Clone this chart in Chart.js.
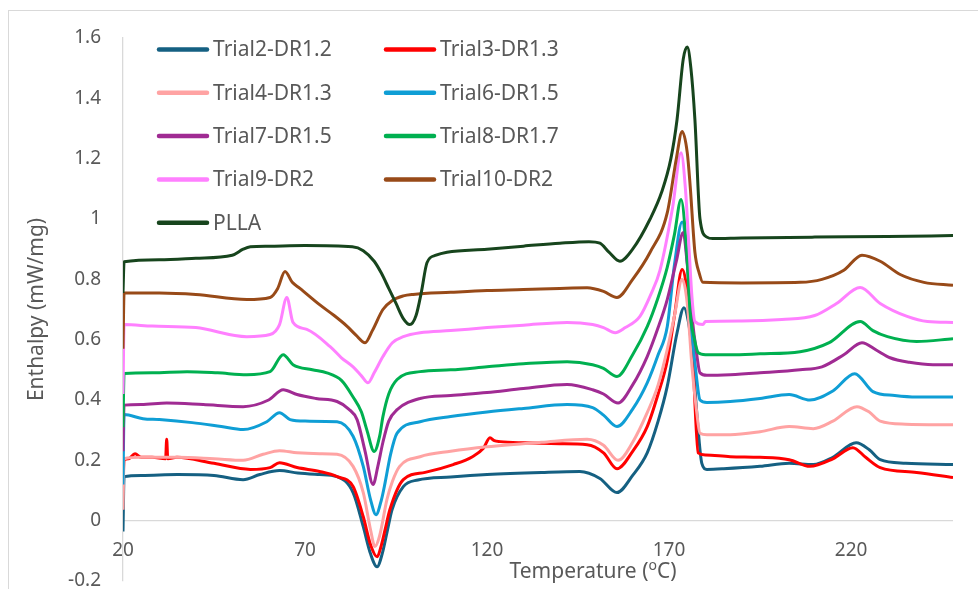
<!DOCTYPE html>
<html>
<head>
<meta charset="utf-8">
<script src="https://cdn.jsdelivr.net/npm/chart.js@4.4.1/dist/chart.umd.min.js"></script>
<style>
  html, body { margin: 0; padding: 0; background: #fff; overflow: hidden; }
  #wrap { width: 978px; height: 589px; position: relative; }
</style>
</head>
<body>
<div id="wrap"><canvas id="dsc"></canvas></div>
<script>
/* ===================================================
   DSC CURVES – enthalpy vs temperature
   =================================================== */

// ── DATA ──────────────────────────────────────────
const SERIES_NAMES = ['Trial2-DR1.2', 'Trial3-DR1.3', 'Trial4-DR1.3', 'Trial6-DR1.5',
  'Trial7-DR1.5', 'Trial8-DR1.7', 'Trial9-DR2', 'Trial10-DR2', 'PLLA'];

const X_TICKS = [20, 70, 120, 170, 220];
const Y_TICKS = [-0.2, 0, 0.2, 0.4, 0.6, 0.8, 1, 1.2, 1.4, 1.6];

const TEMP_T2 = [20, 20.3, 25, 35, 45, 53, 57.6, 63, 68, 74, 78.8, 83.2, 86, 88, 89.8, 91.2, 92.5, 93.9, 97, 101, 110, 120, 135, 145.5, 151, 155.7, 160, 164, 167, 169.5, 172.2, 174.1, 175.3, 176.3, 177.7, 179, 180.4, 185, 195, 203, 209.6, 215, 221.4, 225, 228, 235, 248];
const DH_T2   = [-0.036, 0.146, 0.15, 0.153, 0.15, 0.136, 0.153, 0.166, 0.158, 0.153, 0.146, 0.093, -0.02, -0.11, -0.153, -0.11, -0.04, 0.036, 0.113, 0.135, 0.145, 0.153, 0.16, 0.163, 0.14, 0.093, 0.15, 0.225, 0.33, 0.445, 0.623, 0.706, 0.66, 0.567, 0.345, 0.19, 0.17, 0.172, 0.18, 0.19, 0.186, 0.21, 0.258, 0.235, 0.202, 0.19, 0.186];

const TEMP_T3 = [20, 20.3, 21.5, 23.3, 25, 28, 31.7, 32, 32.3, 34.8, 45, 55, 60.4, 63, 67.8, 74, 78.8, 83.2, 86, 88, 89.8, 91, 92, 93.3, 97, 103, 110.7, 116, 119, 120.8, 122, 123.6, 130, 140, 147.5, 152, 155.7, 160, 164, 167, 169.5, 171.5, 173.6, 175, 176.3, 178, 180, 186.8, 195, 203, 208.7, 215, 220.5, 224, 228, 238, 248];
const DH_T3   = [0.12, 0.2, 0.205, 0.222, 0.21, 0.21, 0.205, 0.27, 0.205, 0.21, 0.19, 0.17, 0.176, 0.192, 0.176, 0.163, 0.146, 0.113, 0.013, -0.08, -0.12, -0.08, -0.03, 0.036, 0.136, 0.16, 0.186, 0.212, 0.24, 0.275, 0.265, 0.262, 0.258, 0.255, 0.252, 0.225, 0.172, 0.23, 0.312, 0.42, 0.53, 0.68, 0.833, 0.76, 0.6, 0.225, 0.218, 0.212, 0.21, 0.202, 0.18, 0.205, 0.242, 0.21, 0.176, 0.16, 0.143];

const TEMP_T4 = [20, 20.3, 25, 35, 45, 53, 58.5, 63, 67.8, 74, 78.8, 83.2, 86, 88, 89.2, 90.5, 92.5, 94, 96, 101.6, 110, 120, 135, 147.5, 152, 156, 160, 164, 167, 169.5, 171.5, 173.6, 175, 176.3, 177.5, 178.5, 180.4, 186.8, 195, 203, 209.6, 215, 221.6, 225, 228, 235, 248];
const DH_T4   = [0.036, 0.205, 0.21, 0.21, 0.205, 0.2, 0.22, 0.232, 0.225, 0.222, 0.22, 0.18, 0.093, -0.03, -0.086, -0.05, 0.07, 0.13, 0.18, 0.212, 0.23, 0.245, 0.26, 0.27, 0.25, 0.2, 0.26, 0.358, 0.45, 0.567, 0.68, 0.8, 0.72, 0.51, 0.37, 0.29, 0.285, 0.285, 0.295, 0.312, 0.305, 0.33, 0.378, 0.36, 0.33, 0.32, 0.318];

const TEMP_T6 = [20, 20.3, 25.5, 30, 39, 47, 53, 59.5, 63, 65.9, 70, 78.8, 83.2, 86, 88, 89.5, 91, 92, 93.5, 95.3, 101.6, 110, 120, 130, 142, 149, 152, 155.7, 160, 164, 167, 169.5, 171.5, 173.6, 175, 176.3, 177.5, 178.5, 180.4, 186.8, 195, 203, 208.7, 215, 221, 226, 232, 238, 248];
const DH_T6   = [0.12, 0.352, 0.338, 0.335, 0.325, 0.312, 0.302, 0.328, 0.358, 0.335, 0.33, 0.328, 0.28, 0.18, 0.07, 0.02, 0.07, 0.126, 0.22, 0.29, 0.328, 0.345, 0.36, 0.372, 0.385, 0.375, 0.35, 0.312, 0.37, 0.457, 0.55, 0.643, 0.85, 0.99, 0.86, 0.623, 0.48, 0.4, 0.392, 0.395, 0.405, 0.418, 0.4, 0.43, 0.487, 0.428, 0.415, 0.41, 0.41];

const TEMP_T7 = [20, 20.3, 25, 32, 42, 53, 60, 64, 67.8, 73, 78.8, 82, 84.3, 86.5, 88.7, 90, 91.4, 93, 95.3, 101.6, 110, 120, 130, 142, 149, 152, 156, 160, 164, 167, 169.5, 172, 173.9, 175, 176.3, 177.5, 178.5, 180.4, 186.8, 195, 206, 212, 218, 223, 227, 230.7, 236, 242.5, 248];
const DH_T7   = [0.23, 0.383, 0.385, 0.39, 0.385, 0.378, 0.4, 0.434, 0.418, 0.405, 0.395, 0.37, 0.335, 0.23, 0.12, 0.18, 0.26, 0.33, 0.368, 0.405, 0.415, 0.425, 0.438, 0.451, 0.434, 0.42, 0.39, 0.45, 0.544, 0.64, 0.733, 0.86, 0.955, 0.85, 0.677, 0.56, 0.49, 0.482, 0.484, 0.49, 0.5, 0.51, 0.55, 0.59, 0.565, 0.54, 0.525, 0.517, 0.517];

const TEMP_T8 = [20, 20.3, 28, 37.6, 46, 54, 60.4, 64, 66.7, 72, 76, 80, 83.2, 85.5, 87, 89, 90.5, 91.4, 93, 95.3, 101.6, 110, 120, 130, 142, 149, 152, 155.7, 160, 164, 167, 169.5, 171.5, 173.3, 174.8, 175.8, 177, 178, 180, 186.8, 195, 206, 214, 222.5, 226, 230, 238, 248];
const DH_T8   = [0.31, 0.488, 0.49, 0.494, 0.49, 0.484, 0.494, 0.55, 0.517, 0.5, 0.49, 0.465, 0.41, 0.36, 0.3, 0.229, 0.28, 0.345, 0.42, 0.468, 0.494, 0.5, 0.51, 0.52, 0.527, 0.517, 0.505, 0.478, 0.55, 0.643, 0.74, 0.84, 0.95, 1.065, 0.9, 0.69, 0.6, 0.557, 0.55, 0.55, 0.553, 0.56, 0.59, 0.66, 0.63, 0.61, 0.594, 0.603];

const TEMP_T9 = [20, 20.3, 28, 40, 54, 60.4, 63, 65, 66.7, 70.5, 76.9, 80, 83.2, 85.5, 87.3, 89, 91.4, 94, 97, 101.6, 110, 120, 130, 142, 149, 152, 155.2, 158, 162, 165, 167.5, 171, 173.3, 174.5, 175.5, 176.3, 177.1, 179.3, 180, 190, 201, 210, 216, 222.5, 228, 235.4, 241, 248];
const DH_T9   = [0.42, 0.65, 0.645, 0.64, 0.61, 0.617, 0.65, 0.74, 0.657, 0.634, 0.577, 0.54, 0.51, 0.48, 0.457, 0.49, 0.544, 0.59, 0.61, 0.623, 0.63, 0.64, 0.648, 0.657, 0.65, 0.64, 0.623, 0.64, 0.677, 0.75, 0.83, 1.04, 1.22, 1.1, 0.9, 0.74, 0.66, 0.65, 0.66, 0.662, 0.667, 0.68, 0.72, 0.773, 0.72, 0.677, 0.66, 0.657];

const TEMP_T10 = [20, 20.3, 30, 40, 54, 60.4, 62.5, 64.5, 66.5, 68.6, 74, 78, 81.5, 84, 86.5, 88.5, 91.4, 94, 97, 99.7, 110, 120, 130, 140, 147.5, 152, 155.7, 160, 164.8, 169.5, 172, 173.6, 175, 175.8, 177.1, 178.3, 179.3, 190, 206, 212, 218, 223, 228, 233.5, 240, 248];
const DH_T10   = [0.57, 0.755, 0.755, 0.75, 0.733, 0.74, 0.77, 0.826, 0.79, 0.77, 0.716, 0.68, 0.645, 0.615, 0.59, 0.63, 0.7, 0.73, 0.745, 0.75, 0.757, 0.763, 0.766, 0.77, 0.772, 0.76, 0.74, 0.8, 0.89, 1.02, 1.2, 1.29, 1.22, 1.11, 0.89, 0.82, 0.79, 0.788, 0.79, 0.8, 0.83, 0.88, 0.86, 0.816, 0.79, 0.78];

const TEMP_PLLA = [20, 20.3, 30, 40, 50, 53, 55, 60, 70, 83, 86, 89, 91, 93, 95, 97, 98.8, 100.5, 102, 103.5, 106, 109, 120, 130, 140, 148, 151, 153.5, 156.5, 160, 164.8, 168, 170.5, 172.2, 173.9, 175, 176, 177.1, 178.5, 180.4, 182, 190, 210, 230, 248];
const DH_PLLA   = [0.755, 0.858, 0.865, 0.87, 0.88, 0.9, 0.908, 0.91, 0.912, 0.908, 0.895, 0.86, 0.82, 0.77, 0.72, 0.67, 0.65, 0.68, 0.76, 0.855, 0.88, 0.89, 0.9, 0.91, 0.92, 0.925, 0.92, 0.89, 0.86, 0.9, 1.0, 1.09, 1.2, 1.33, 1.53, 1.57, 1.5, 1.33, 1.0, 0.94, 0.935, 0.937, 0.94, 0.942, 0.945];

const SERIES_TEMPS = [TEMP_T2, TEMP_T3, TEMP_T4, TEMP_T6, TEMP_T7, TEMP_T8, TEMP_T9, TEMP_T10, TEMP_PLLA];
const SERIES_DH    = [DH_T2, DH_T3, DH_T4, DH_T6, DH_T7, DH_T8, DH_T9, DH_T10, DH_PLLA];

// ── STYLE ─────────────────────────────────────────
const COLORS = ['#156082', '#ff0000', '#ffa3a3', '#0f9ed5', '#a02b93',
  '#00b050', '#ff80ff', '#984a18', '#17451d'];
const TEXT = '#595959';
const FONT = "'Noto Sans', 'Open Sans', sans-serif";
const AXIS_GRAY = '#d9d9d9';

// ── DECOR PLUGIN (frame, legend, x title) ─────────
const sheetDecor = {
  id: 'sheetDecor',
  beforeDraw(chart) {
    const { ctx, width, height } = chart;
    ctx.save();
    ctx.fillStyle = '#fff';
    ctx.fillRect(0, 0, width, height);
    ctx.strokeStyle = AXIS_GRAY;
    ctx.lineWidth = 1;
    ctx.strokeRect(8.5, 10.5, width + 20, height + 20);
    ctx.restore();
  },
  afterDraw(chart) {
    const { ctx } = chart;
    ctx.save();
    // legend, two columns
    ctx.font = `21px ${FONT}`;
    ctx.textBaseline = 'middle';
    ctx.lineCap = 'round';
    chart.data.datasets.forEach((ds, i) => {
      const col = i % 2, row = Math.floor(i / 2);
      const x0 = col ? 384 : 157;
      const y = 49.5 + row * 43.3;
      ctx.strokeStyle = ds.borderColor;
      ctx.lineWidth = 4.5;
      ctx.beginPath();
      ctx.moveTo(x0 + 2, y);
      ctx.lineTo(x0 + 50, y);
      ctx.stroke();
      ctx.fillStyle = TEXT;
      ctx.textAlign = 'left';
      ctx.fillText(ds.label, x0 + 56, y + 1);
    });

    // x axis title with superscript o
    const a = 'Temperature (', b = 'o', c = 'C)';
    ctx.font = `21px ${FONT}`;
    const wa = ctx.measureText(a).width, wc = ctx.measureText(c).width;
    ctx.font = `14px ${FONT}`;
    const wb = ctx.measureText(b).width;
    let x = 593 - (wa + wb + wc) / 2;
    const ty = 572;
    ctx.fillStyle = TEXT;
    ctx.font = `21px ${FONT}`;
    ctx.fillText(a, x, ty);
    x += wa;
    ctx.font = `14px ${FONT}`;
    ctx.fillText(b, x, ty - 6);
    x += wb;
    ctx.font = `21px ${FONT}`;
    ctx.fillText(c, x, ty);
    ctx.restore();
  }
};

// ── CHART ─────────────────────────────────────────
const datasets = SERIES_NAMES.map((name, i) => ({
  label: name,
  data: SERIES_TEMPS[i].map((t, k) => ({ x: t, y: SERIES_DH[i][k] })),
  borderColor: COLORS[i],
  backgroundColor: COLORS[i],
  borderWidth: 3,
  pointRadius: 0,
  cubicInterpolationMode: 'monotone',
  fill: false,
  order: -i,
}));

new Chart(document.getElementById('dsc'), {
  type: 'line',
  data: { datasets },
  options: {
    responsive: true,
    maintainAspectRatio: false,
    animation: false,
    devicePixelRatio: 1,
    layout: { padding: { top: 38, right: 25, bottom: 0, left: 0 } },
    plugins: {
      legend: { display: false },
      tooltip: { enabled: false },
    },
    scales: {
      x: {
        type: 'linear',
        min: 20,
        max: 248,
        afterBuildTicks: s => { s.ticks = X_TICKS.map(v => ({ value: v })); },
        afterFit: s => {
          s.height = 8;
          s.paddingLeft = 0; s.paddingRight = 0;
        },
        grid: { display: false, drawTicks: false },
        border: { display: false },
        ticks: {
          color: TEXT,
          font: { family: FONT, size: 19, lineHeight: 0.8 },
          mirror: true,
          padding: 23,
          maxRotation: 0,
          autoSkip: false,
        },
      },
      y: {
        min: -0.2,
        max: 1.6,
        afterBuildTicks: s => { s.ticks = Y_TICKS.map(v => ({ value: v })); },
        afterFit: s => {
          s.width = 123;
          s.paddingTop = 0; s.paddingBottom = 0;
        },
        grid: {
          drawTicks: false,
          color: c => (c.tick && c.tick.value === 0 ? AXIS_GRAY : 'transparent'),
          lineWidth: 1.3,
        },
        border: { display: true, color: AXIS_GRAY, width: 1.3 },
        ticks: {
          color: TEXT,
          font: { family: FONT, size: 19, lineHeight: 0.8 },
          padding: 22,
          callback: v => String(+v.toFixed(1)),
        },
        title: {
          display: true,
          text: 'Enthalpy (mW/mg)',
          color: TEXT,
          font: { family: FONT, size: 21 },
          padding: { top: 24, bottom: 0 },
        },
      },
    },
  },
  plugins: [sheetDecor],
});
</script>
</body>
</html>
